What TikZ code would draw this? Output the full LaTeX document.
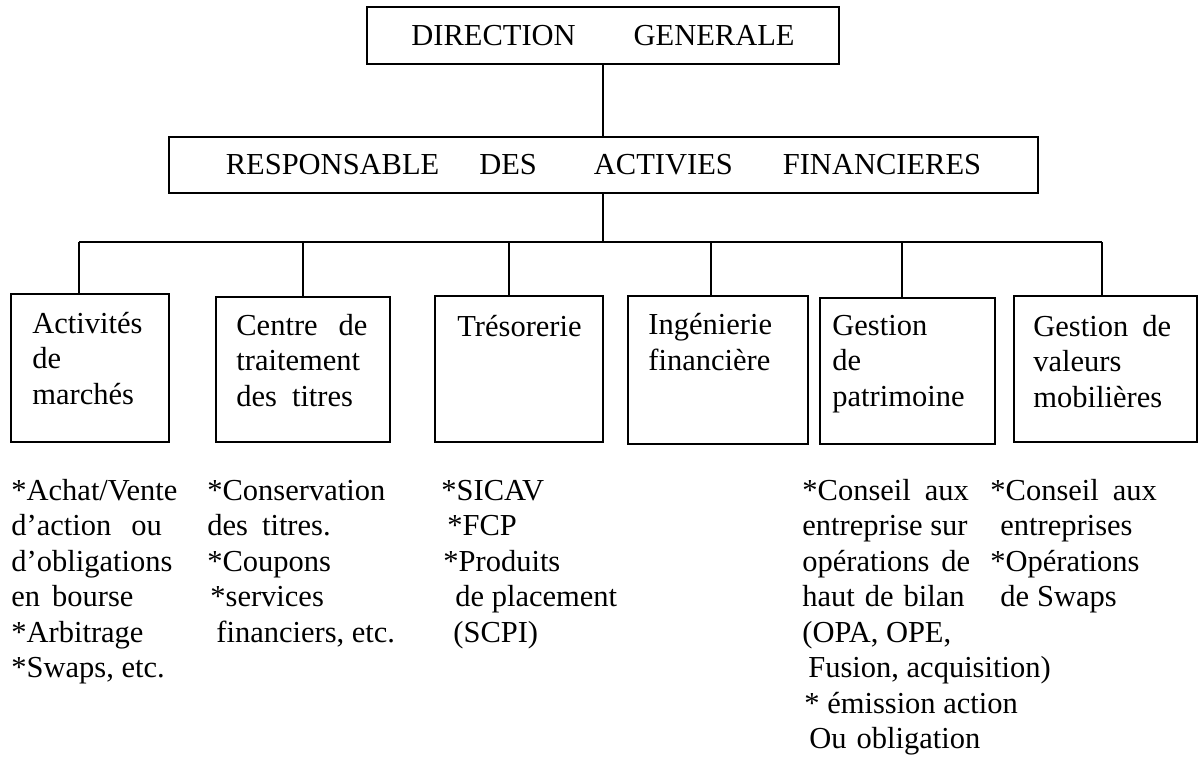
\documentclass[tikz,border=0pt]{standalone}
\usepackage{fontspec}
\setmainfont{Liberation Serif}
\usepackage{tikz}
\usetikzlibrary{positioning}

\begin{document}
\begin{tikzpicture}[x=0.5pt, y=-0.5pt, font=\fontsize{15.25pt}{17.75pt}\selectfont]
            %Block styles
            \tikzstyle{box} = [draw, line width=1pt, rectangle, inner sep=0pt]
            \tikzstyle{txt} = [align=left, inner sep=0pt, anchor=base west]
            \tikzstyle{link} = [line width=0.8pt]

            \useasboundingbox (0,0) rectangle (1203,756);

            %Top of the tree
            \node[box, minimum width=236pt, minimum height=28.5pt] at (603,35.5) (dg) {DIRECTION\hspace{29pt}GENERALE};
            \node[box, minimum width=434.5pt, minimum height=28pt] at (603.5,165) (resp) {RESPONSABLE\hspace{20pt}DES\hspace{28.5pt}ACTIVIES\hspace{25pt}FINANCIERES};

            %Services
            \node[box, minimum width=79pt, minimum height=74pt] at (90,368) (act) {};
            \node[box, minimum width=87pt, minimum height=72.5pt] at (303,369.5) (ctt) {};
            \node[box, minimum width=84pt, minimum height=73pt] at (519,369) (tres) {};
            \node[box, minimum width=90pt, minimum height=74pt] at (718,370) (ing) {};
            \node[box, minimum width=87.5pt, minimum height=73pt] at (907.5,371) (patr) {};
            \node[box, minimum width=91.5pt, minimum height=73pt] at (1105.5,369) (vmob) {};

            %base of a multi-line node = its last line
            \node[txt] at (32,404) (actT) {Activités\\de\\marchés};
            \node[txt] at (236,406) (cttT) {Centre\hspace{10.5pt}de\\traitement\\des\hspace{7.5pt}titres};
            \node[txt] at (457,336) (tresT) {Trésorerie};
            \node[txt] at (648,370) (ingT) {Ingénierie\\financière};
            \node[txt] at (832,406) (patrT) {Gestion\\de\\patrimoine};
            \node[txt] at (1033,407) (vmobT) {Gestion\hspace{7pt}de\\valeurs\\mobilières};

            %Tasks under each service
            \node[txt] at (11,677.5) (actL) {*Achat/Vente\\d’action\hspace{10pt}ou\\d’obligations\\en\hspace{6pt}bourse\\*Arbitrage\\*Swaps, etc.};
            \node[txt] at (207,642) (cttL) {*Conservation\\des\hspace{7pt}titres.\\*Coupons\\\hspace*{1.5pt}*services\\\hspace*{4.5pt}financiers, etc.};
            \node[txt] at (441,642) (tresL) {*SICAV\\\hspace*{3pt}*FCP\\\hspace*{1pt}*Produits\\\hspace*{7pt}de placement\\\hspace*{6pt}(SCPI)};
            \node[txt] at (802,748.5) (patrL) {*Conseil\hspace{7pt}aux\\entreprise sur\\opérations\hspace{6pt}de\\haut\hspace{5pt}de\hspace{5pt}bilan\\(OPA, OPE,\\\hspace*{3pt}Fusion, acquisition)\\\hspace*{1pt}* émission action\\\hspace*{3.5pt}Ou\hspace{5pt}obligation};
            \node[txt] at (990,606.5) (vmobL) {*Conseil\hspace{7pt}aux\\\hspace*{5pt}entreprises\\*Opérations\\\hspace*{5pt}de\hspace{4pt}Swaps};

            %Connectors
            \coordinate (bar) at (603,242);
            \coordinate (d1) at (79,242);
            \coordinate (d2) at (303,242);
            \coordinate (d3) at (509,242);
            \coordinate (d4) at (711,242);
            \coordinate (d5) at (902,242);
            \coordinate (d6) at (1102,242);

            \draw[link] (dg.south) -- (dg.south |- resp.north);
            \draw[link] (bar |- resp.south) -- (bar);
            \draw[link] (d1) -- (d6);
            \draw[link] (d1) -- (d1 |- act.north);
            \draw[link] (d2) -- (d2 |- ctt.north);
            \draw[link] (d3) -- (d3 |- tres.north);
            \draw[link] (d4) -- (d4 |- ing.north);
            \draw[link] (d5) -- (d5 |- patr.north);
            \draw[link] (d6) -- (d6 |- vmob.north);
        \end{tikzpicture}
\end{document}
